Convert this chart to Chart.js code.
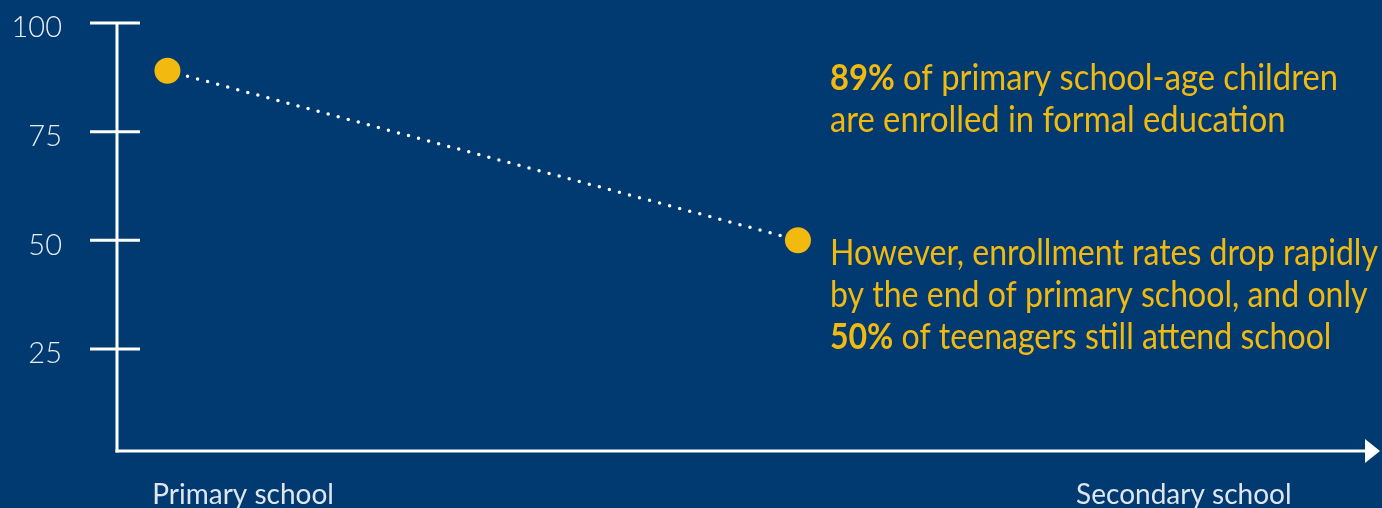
<!DOCTYPE html>
<html lang="en">
<head>
  <meta charset="UTF-8" />
  <title>School enrollment</title>
  <script src="https://cdn.jsdelivr.net/npm/chart.js"></script>
  <style>
    html, body {
      margin: 0;
      padding: 0;
      overflow: hidden;
      background-color: #013a70;
    }
    canvas {
      display: block;
    }
  </style>
</head>
<body>
  <canvas id="enrollChart" width="1382" height="508"></canvas>

  <script>
    const stages = ['Primary school', 'Secondary school'];
    const stagePos = [0.1, 0.846];
    const pointPos = [0.04, 0.54];
    const enrollment = [89, 50];
    const yTicks = [25, 50, 75, 100];

    const noteTop = [
      [['89%', true], [' of primary school-age children', false]],
      [['are enrolled in formal education', false]]
    ];
    const noteBottom = [
      [['However, enrollment rates drop rapidly', false]],
      [['by the end of primary school, and only', false]],
      [['50%', true], [' of teenagers still attend school', false]]
    ];

    const BG = '#013a70';
    const YELLOW = '#f2b90f';
    const AXIS = '#ffffff';
    const FONT = "'Lato', sans-serif";

    function drawNote(ctx, lines, x, y, lineGap, fitWidth) {
      ctx.save();
      ctx.fillStyle = YELLOW;
      ctx.textBaseline = 'alphabetic';
      ctx.textAlign = 'left';
      const font = b => (b ? 'bold ' : '') + '36px ' + FONT;
      // widest line decides how much to squeeze
      let widest = 0;
      lines.forEach(line => {
        let w = 0;
        line.forEach(([t, b]) => { ctx.font = font(b); w += ctx.measureText(t).width; });
        widest = Math.max(widest, w);
      });
      const sx = fitWidth / widest;
      ctx.translate(x, y);
      ctx.scale(sx, 1);
      lines.forEach((line, i) => {
        let cx = 0;
        line.forEach(([t, b]) => {
          ctx.font = font(b);
          ctx.fillText(t, cx, i * lineGap);
          cx += ctx.measureText(t).width;
        });
      });
      ctx.restore();
    }

    const decor = {
      id: 'decor',
      beforeDraw(chart) {
        const ctx = chart.ctx;
        ctx.save();
        ctx.fillStyle = BG;
        ctx.fillRect(0, 0, chart.width, chart.height);
        ctx.restore();
      },
      beforeDatasetsDraw(chart) {
        const ctx = chart.ctx;
        const y = chart.scales.y;
        const area = chart.chartArea;
        const ax = area.left;
        ctx.save();
        ctx.strokeStyle = AXIS;
        ctx.fillStyle = AXIS;
        ctx.lineWidth = 3;
        // y axis
        ctx.beginPath();
        ctx.moveTo(ax, y.getPixelForValue(yTicks[yTicks.length - 1]) - 1);
        ctx.lineTo(ax, area.bottom + 1.5);
        ctx.stroke();
        // tick marks across the axis
        yTicks.forEach(v => {
          const py = y.getPixelForValue(v);
          ctx.beginPath();
          ctx.moveTo(ax - 27, py);
          ctx.lineTo(ax + 23, py);
          ctx.stroke();
        });
        // x axis with arrow
        ctx.beginPath();
        ctx.moveTo(ax - 1.5, area.bottom);
        ctx.lineTo(area.right - 12, area.bottom);
        ctx.stroke();
        ctx.beginPath();
        ctx.moveTo(area.right + 2, area.bottom);
        ctx.lineTo(area.right - 13, area.bottom - 12);
        ctx.lineTo(area.right - 13, area.bottom + 12);
        ctx.closePath();
        ctx.fill();
        ctx.restore();
      },
      afterDatasetsDraw(chart) {
        const ctx = chart.ctx;
        const meta = chart.getDatasetMeta(0);
        const p1 = meta.data[0];
        const p2 = meta.data[1];
        const tx = p2.x + 32;
        drawNote(ctx, noteTop, tx, p1.y + 19, 42, 508);
        drawNote(ctx, noteBottom, tx, p2.y + 25, 42, 548);
      }
    };

    new Chart(document.getElementById('enrollChart'), {
      type: 'line',
      data: {
        datasets: [{
          data: pointPos.map((x, i) => ({ x: x, y: enrollment[i] })),
          borderColor: '#ffffff',
          borderWidth: 3.5,
          borderDash: [0, 10.4],
          borderCapStyle: 'round',
          pointRadius: 13,
          pointHoverRadius: 13,
          pointBackgroundColor: YELLOW,
          pointBorderWidth: 0,
          fill: false,
          tension: 0
        }]
      },
      options: {
        responsive: false,
        animation: false,
        layout: {
          autoPadding: false,
          padding: { top: 23, right: 4, left: 0, bottom: 0 }
        },
        plugins: {
          legend: { display: false },
          tooltip: { enabled: false }
        },
        scales: {
          x: {
            type: 'linear',
            min: 0,
            max: 1,
            grid: { display: false },
            border: { display: false },
            afterBuildTicks: s => { s.ticks = stagePos.map(v => ({ value: v })); },
            afterFit: s => {
              s.height = 57;
              s.paddingLeft = 0;
              s.paddingRight = 0;
            },
            ticks: {
              autoSkip: false,
              maxRotation: 0,
              padding: 19,
              color: '#dfe6ee',
              font: { family: FONT, size: 28 },
              callback: (v, i) => stages[i]
            }
          },
          y: {
            min: 1.5,
            max: 100,
            grid: { display: false, drawTicks: false },
            border: { display: false },
            afterBuildTicks: s => { s.ticks = yTicks.map(v => ({ value: v })); },
            afterFit: s => {
              s.width = 117;
              s.paddingTop = 0;
              s.paddingBottom = 0;
            },
            ticks: {
              padding: 55,
              labelOffset: 5,
              color: '#e8edf3',
              font: { family: FONT, size: 29, weight: 300 }
            }
          }
        }
      },
      plugins: [decor]
    });
  </script>
</body>
</html>
